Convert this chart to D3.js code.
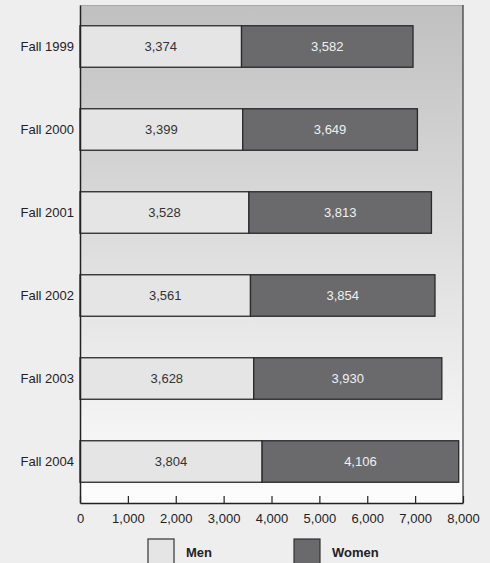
<!DOCTYPE html>
<html>
<head>
<meta charset="utf-8">
<style>
html, body { margin: 0; padding: 0; background: #eeeeee; }
svg { display: block; }
text { font-family: "Liberation Sans Narrow", "Arial Narrow", "Liberation Sans", Arial, sans-serif; }
</style>
<script src="https://cdn.jsdelivr.net/npm/d3@7"></script>
</head>
<body>
<script>
var terms = ["Fall 1999", "Fall 2000", "Fall 2001", "Fall 2002", "Fall 2003", "Fall 2004"];
var men = [3374, 3399, 3528, 3561, 3628, 3804];
var women = [3582, 3649, 3813, 3854, 3930, 4106];
var xTicks = [0, 1000, 2000, 3000, 4000, 5000, 6000, 7000, 8000];
var seriesNames = ["Men", "Women"];
var seriesFill = ["#e5e5e6", "#6a6a6d"];
var labelFill = ["#333333", "#f0f0f0"];

var w = 490, h = 563;
var mLeft = 80, mRight = 463, mTop = 5, mBottom = 503;
var fontStack = "'Liberation Sans Narrow', 'Arial Narrow', 'Liberation Sans', sans-serif";

var svg = d3.select("body").append("svg")
  .attr("width", w)
  .attr("height", h);

var x = d3.scaleLinear().domain([0, 8000]).range([mLeft, mRight]);
var y = d3.scaleBand().domain(terms).range([mTop, mBottom]).paddingInner(0.5).paddingOuter(0.25);

// plot background gradient
var grad = svg.append("defs").append("linearGradient")
  .attr("id", "bg").attr("x1", 0).attr("y1", 0).attr("x2", 0).attr("y2", 1);
grad.append("stop").attr("offset", 0).attr("stop-color", "#c0c0c1");
grad.append("stop").attr("offset", 1).attr("stop-color", "#fdfdfd");

svg.append("rect")
  .attr("x", mLeft).attr("y", mTop)
  .attr("width", mRight - mLeft).attr("height", mBottom - mTop)
  .attr("fill", "url(#bg)");

svg.append("line")
  .attr("x1", mLeft).attr("x2", mRight).attr("y1", mTop + 0.5).attr("y2", mTop + 0.5)
  .attr("stroke", "#a8a8a8");
svg.append("line")
  .attr("x1", mRight).attr("x2", mRight).attr("y1", mTop).attr("y2", mBottom)
  .attr("stroke", "#333").attr("stroke-width", 1.2);

// stacked bars
var rows = terms.map(function(t, i) {
  return [
    { term: t, s: 0, x0: 0, x1: men[i], v: men[i] },
    { term: t, s: 1, x0: men[i], x1: men[i] + women[i], v: women[i] }
  ];
});
var segs = [].concat.apply([], rows);

svg.selectAll("rect.bar")
  .data(segs)
  .enter().append("rect")
  .attr("class", "bar")
  .attr("x", function(d) { return x(d.x0); })
  .attr("y", function(d) { return y(d.term); })
  .attr("width", function(d) { return x(d.x1) - x(d.x0); })
  .attr("height", y.bandwidth())
  .attr("fill", function(d) { return seriesFill[d.s]; })
  .attr("stroke", "#2a2a2a")
  .attr("stroke-width", 1.3);

svg.selectAll("text.val")
  .data(segs)
  .enter().append("text")
  .attr("class", "val")
  .attr("x", function(d) { return (x(d.x0) + x(d.x1)) / 2; })
  .attr("y", function(d) { return y(d.term) + y.bandwidth() / 2; })
  .attr("dy", "0.35em")
  .attr("text-anchor", "middle")
  .attr("font-size", 13)
  .attr("fill", function(d) { return labelFill[d.s]; })
  .text(function(d) { return d3.format(",")(d.v); });

// y axis
var yAxis = svg.append("g")
  .attr("transform", "translate(" + mLeft + ",0)")
  .call(d3.axisLeft(y).tickSize(0).tickPadding(6));
yAxis.select(".domain").attr("stroke", "#222").attr("stroke-width", 1.5);
yAxis.selectAll("text").attr("font-size", 13).attr("fill", "#222")
  .style("font-family", fontStack);

// x axis
var xAxis = svg.append("g")
  .attr("transform", "translate(0," + mBottom + ")")
  .call(d3.axisBottom(x).tickValues(xTicks).tickFormat(d3.format(",")).tickSizeInner(-7).tickSizeOuter(0).tickPadding(11));
xAxis.select(".domain").attr("stroke", "#222").attr("stroke-width", 1.5);
xAxis.selectAll("line").attr("stroke", "#222").attr("stroke-width", 1.2);
xAxis.selectAll("text").attr("font-size", 13).attr("fill", "#222")
  .style("font-family", fontStack);

// legend
var legendX = [148, 294];
var legend = svg.selectAll("g.leg")
  .data(seriesNames)
  .enter().append("g")
  .attr("class", "leg")
  .attr("transform", function(d, i) { return "translate(" + legendX[i] + ",539)"; });
legend.append("rect")
  .attr("width", 26).attr("height", 30)
  .attr("fill", function(d, i) { return seriesFill[i]; })
  .attr("stroke", "#333").attr("stroke-width", 1.2);
legend.append("text")
  .attr("x", 38).attr("y", 18)
  .attr("font-size", 13).attr("font-weight", "bold").attr("fill", "#222")
  .text(function(d) { return d; });
</script>
</body>
</html>
